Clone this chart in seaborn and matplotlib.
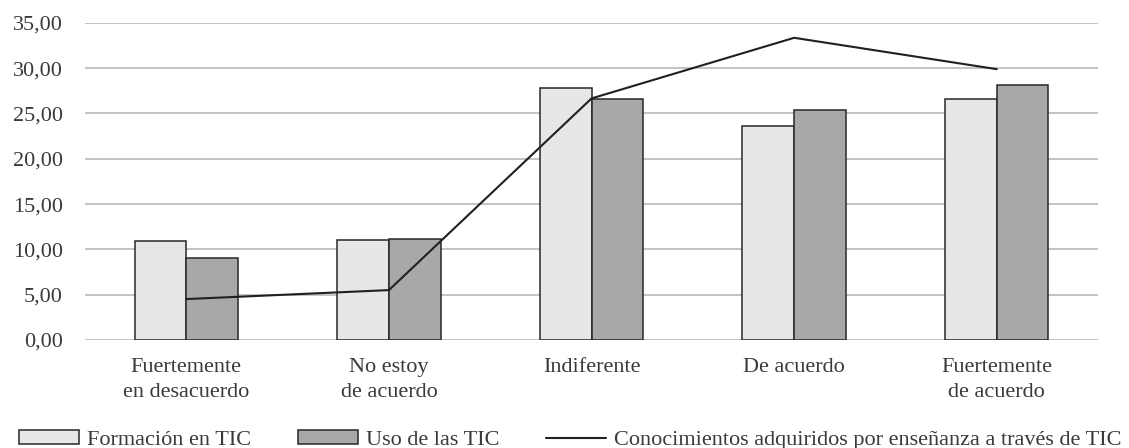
import numpy as np
import pandas as pd
import matplotlib
matplotlib.use("Agg")
import matplotlib.pyplot as plt
import seaborn as sns
from matplotlib.ticker import FuncFormatter

# ------------------------------------------------------------
# Data
# ------------------------------------------------------------
categorias = ["Fuertemente\nen desacuerdo", "No estoy\nde acuerdo", "Indiferente",
              "De acuerdo", "Fuertemente\nde acuerdo"]
formacion_tic = [10.95, 11.06, 27.83, 23.64, 26.58]
uso_tic = [9.08, 11.17, 26.58, 25.33, 28.16]
conocimientos = [4.52, 5.51, 26.66, 33.35, 29.89]

serie_barras = ["Formación en TIC", "Uso de las TIC"]
serie_linea = "Conocimientos adquiridos por enseñanza a través de TIC"

df = pd.DataFrame({
    "categoria": categorias * 2,
    "serie": [serie_barras[0]] * len(categorias) + [serie_barras[1]] * len(categorias),
    "valor": formacion_tic + uso_tic,
})

# ------------------------------------------------------------
# Style
# ------------------------------------------------------------
sns.set_style("white")
plt.rcParams["font.family"] = ["Liberation Serif", "DejaVu Serif"]
plt.rcParams["font.size"] = 16
text_color = "#3a3a3a"
edge_color = "#2a2627"

fig = plt.figure(figsize=(11.29, 4.48), dpi=100)
ax = fig.add_axes([0.0753, 0.241, 0.8973, 0.708])

sns.barplot(
    data=df, x="categoria", y="valor", hue="serie",
    palette=["#e6e7e8", "#a7a8ab"], width=0.51, gap=0,
    edgecolor=edge_color, linewidth=1.1, ax=ax,
)
sns.lineplot(x=np.arange(len(categorias)), y=conocimientos, color="#231f20",
             linewidth=1.5, ax=ax, label=serie_linea)

ax.set_ylim(0, 35)
ax.set_xlim(-0.5, len(categorias) - 0.5)
ax.set_yticks(np.arange(0, 36, 5))
ax.yaxis.set_major_formatter(FuncFormatter(lambda v, _: f"{v:.2f}".replace(".", ",")))
ax.set_xlabel("")
ax.set_ylabel("")
ax.set_axisbelow(True)
ax.grid(axis="y", color="#b3b3b3", linewidth=1.1)
ax.grid(axis="x", visible=False)
for s in ax.spines.values():
    s.set_visible(False)
ax.tick_params(axis="y", length=0, pad=16, labelsize=16, labelcolor=text_color)
ax.tick_params(axis="x", length=0, pad=13, labelsize=16, labelcolor=text_color)
for lbl in ax.get_xticklabels():
    lbl.set_linespacing(1.45)

handles, labels = ax.get_legend_handles_labels()
ax.get_legend().remove()
fig.legend(handles, labels, loc="lower center", bbox_to_anchor=(0.505, -0.005),
           ncol=3, frameon=False, fontsize=16, labelcolor=text_color,
           handlelength=2.7, handleheight=0.6, handletextpad=0.35,
           columnspacing=2.1, borderpad=0, borderaxespad=0)

fig.savefig("out.png", dpi=100, facecolor="white")
